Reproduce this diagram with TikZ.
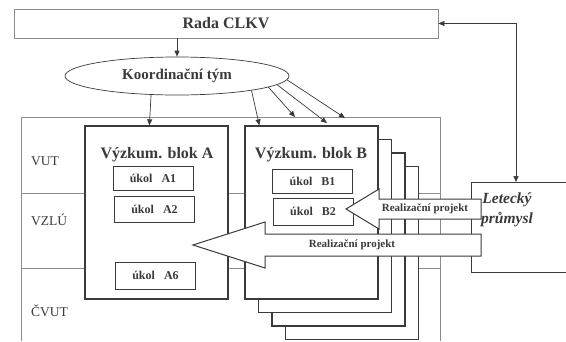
\documentclass[tikz,border=0pt]{standalone}
\usepackage{fontspec}
\setmainfont{Liberation Serif}
\usetikzlibrary{shapes.geometric,arrows.meta,calc}
\definecolor{ink}{HTML}{3A3A3A}
\definecolor{framec}{HTML}{8C8C8C}
\begin{document}
\begin{tikzpicture}[x=1pt,y=-1pt,
  blockbox/.style={draw=ink, line width=1.3pt, fill=white, inner sep=0pt, minimum height=173},
  taskbox/.style={draw=ink, line width=1pt, fill=white, inner sep=0pt, minimum width=80, text=ink, font=\fontsize{12}{12}\selectfont\bfseries},
  thinline/.style={draw=framec, line width=0.6pt},
  labtext/.style={text=ink, inner sep=0pt, anchor=west, font=\fontsize{13.5}{13.5}\selectfont},
  titletext/.style={text=ink, inner sep=0pt, font=\fontsize{16}{16}\selectfont\bfseries},
  rptext/.style={text=ink, inner sep=0pt, font=\fontsize{11}{11}\selectfont\bfseries},
  bigarrow/.style={draw=ink, line width=1pt, fill=white, line join=miter},
  conn/.style={draw=ink, line width=0.7pt, -{Triangle[length=6pt,width=5pt]}},
  dconn/.style={draw=ink, line width=0.7pt, {Triangle[length=6pt,width=5pt]}-{Triangle[length=6pt,width=5pt]}}
]
\clip (0,0) rectangle (566,341);
\fill[white] (0,0) rectangle (566,341);

% top board and coordination team
\node[draw=framec, line width=0.8pt, minimum width=424, minimum height=29, inner sep=0pt,
      text=ink, font=\fontsize{16}{16}\selectfont\bfseries] (rada) at (226,23.5) {Rada CLKV};
\node[ellipse, draw=ink, line width=0.7pt, minimum width=224, minimum height=38, inner sep=0pt,
      text=ink, font=\fontsize{15}{15}\selectfont\bfseries] (koord) at (177,76) {Koordinační tým};

% institutions frame
\draw[thinline] (21,341) -- (21,117) -- (440,117) -- (440,341);
\draw[thinline] (21,193) -- (440,193);
\draw[thinline] (21,268) -- (440,268);
\node[labtext] (vut) at (31,161) {VUT};
\node[labtext] (vzlu) at (31,220) {VZLÚ};
\node[labtext] (cvut) at (31,311) {ČVUT};

% stack of block B
\node[blockbox, minimum width=133] (b3) at (352,253) {};
\node[blockbox, minimum width=133] (b2) at (338.5,239.5) {};
\node[blockbox, minimum width=133] (b1) at (325,226) {};
\node[blockbox, minimum width=133] (blockB) at (311.5,212.5) {};
\node[blockbox, minimum width=143] (blockA) at (156.5,212.5) {};

\node[titletext] (titA) at (157,155) {Výzkum. blok A};
\node[titletext] (titB) at (311,155) {Výzkum. blok B};

\node[taskbox, minimum height=24] (a1) at (153,178) {úkol\hspace{9pt}A1};
\node[taskbox, minimum height=26] (a2) at (154.5,209) {úkol\hspace{9pt}A2};
\node[taskbox, minimum height=27] (a6) at (155.5,275.5) {úkol\hspace{9pt}A6};
\node[taskbox, minimum height=24] (bb1) at (312.5,181) {úkol\hspace{9pt}B1};
\node[taskbox, minimum height=27] (bb2) at (313,211.5) {úkol\hspace{9pt}B2};

% industry
\node[draw=ink, line width=0.8pt, fill=white, minimum width=110, minimum height=90, inner sep=0pt,
      anchor=north west] (letecky) at (471,182) {};
\node[text=ink, align=center, inner sep=0pt, font=\fontsize{15.5}{20}\selectfont\bfseries\itshape]
      (letText) at (507,210) {Letecký\\průmysl};

% implementation arrows
\draw[bigarrow] (346,209) -- (379,189) -- (379,199) -- (481,199) -- (481,219) -- (379,219) -- (379,229) -- cycle;
\node[rptext] (rp1) at (425,209) {Realizační projekt};
\draw[bigarrow] (193,245) -- (265,222) -- (265,234) -- (481,234) -- (481,256) -- (265,256) -- (265,268) -- cycle;
\node[rptext] (rp2) at (352,245) {Realizační projekt};

% connectors
\draw[conn] (rada.south -| koord.north) -- (koord.north);
\draw[conn] (koord.216) -- ($(blockA.north west)+(65,0)$);
\draw[conn] (koord.349) -- ($(blockB.north west)+(15,0)$);
\coordinate (c1) at (295,117);
\coordinate (c2) at (327,123);
\coordinate (c3) at (345,118);
\draw[conn] (koord.353) -- (c1);
\draw[conn] (koord.355.5) -- (c2);
\draw[conn] (koord.358) -- (c3);
\coordinate (ltop) at ($(letecky.north west)+(45,0)$);
\draw[dconn] (ltop) |- (rada.east);
\end{tikzpicture}
\end{document}
